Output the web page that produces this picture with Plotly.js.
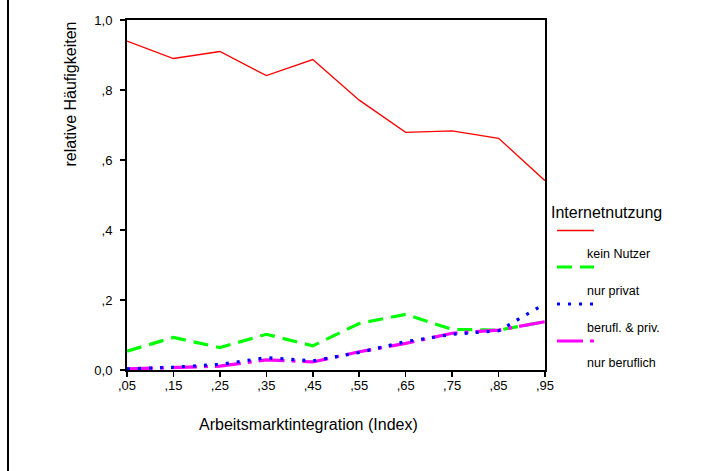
<!DOCTYPE html>
<html>
<head>
<meta charset="utf-8">
<script src="https://cdn.plot.ly/plotly-3.0.1.min.js"></script>
<style>html,body{margin:0;padding:0;background:#fff;}#chart{width:715px;height:471px;}</style>
</head>
<body>
<div id="chart"></div>
<script>
const xValues = [0.05, 0.15, 0.25, 0.35, 0.45, 0.55, 0.65, 0.75, 0.85, 0.95];
const xTickLabels = [",05", ",15", ",25", ",35", ",45", ",55", ",65", ",75", ",85", ",95"];
const yTickValues = [0, 0.2, 0.4, 0.6, 0.8, 1.0];
const yTickLabels = ["0,0", ",2", ",4", ",6", ",8", "1,0"];
const seriesNames = ["kein Nutzer", "nur privat", "berufl. & priv.", "nur beruflich"];
const keinNutzer   = [0.940, 0.890, 0.910, 0.841, 0.887, 0.771, 0.679, 0.683, 0.662, 0.541];
const nurPrivat    = [0.054, 0.093, 0.064, 0.102, 0.069, 0.133, 0.159, 0.116, 0.114, 0.138];
const beruflPriv   = [0.003, 0.008, 0.016, 0.035, 0.026, 0.050, 0.081, 0.102, 0.112, 0.189];
const nurBeruflich = [0.003, 0.008, 0.011, 0.029, 0.023, 0.052, 0.076, 0.105, 0.114, 0.138];
const legendTitle = "Internetnutzung";
const xTitle = "Arbeitsmarktintegration (Index)";
const yTitle = "relative Häufigkeiten";

const styles = [
  {color: "#ff0000", width: 1.3, dash: "solid"},
  {color: "#00ff00", width: 3.2, dash: "15px,8px"},
  {color: "#0000ff", width: 3.2, dash: "3px,8px"},
  {color: "#ff00ff", width: 3.2, dash: "26px,7px,4px,7px"}
];
const seriesData = [keinNutzer, nurPrivat, beruflPriv, nurBeruflich];
const drawOrder = [0, 1, 3, 2];
const traces = drawOrder.map(i => ({
  type: "scatter", mode: "lines", x: xValues, y: seriesData[i], name: seriesNames[i],
  line: {color: styles[i].color, width: styles[i].width, dash: styles[i].dash},
  showlegend: false, hoverinfo: "x+y+name"
}));

const W = 715, H = 471, L = 127, R = 170, T = 20, B = 101;
const pw = W - L - R, ph = H - T - B;
const px = x => (x - L) / pw;
const py = y => (H - B - y) / ph;
const fam = "Arial, Liberation Sans, sans-serif";

const shapes = [
  {type: "line", xref: "paper", yref: "paper", x0: px(8), x1: px(8), y0: py(H), y1: py(0), line: {color: "#000", width: 2}}
];
const annotations = [
  {xref: "paper", yref: "paper", x: px(70), y: py(94.5), text: yTitle, textangle: -90, showarrow: false,
   font: {family: fam, size: 16, color: "#000"}, xanchor: "center", yanchor: "middle"},
  {xref: "paper", yref: "paper", x: px(308), y: py(424), text: xTitle, showarrow: false,
   font: {family: fam, size: 16, color: "#000"}, xanchor: "center", yanchor: "middle"},
  {xref: "paper", yref: "paper", x: px(549), y: py(212), text: legendTitle, showarrow: false,
   font: {family: fam, size: 16, color: "#000"}, xanchor: "left", yanchor: "middle"}
];
const legendSymY = [230.5, 267, 304, 341];
const legendLabY = [254, 291, 327.5, 363];
for (let i = 0; i < 4; i++) {
  shapes.push({type: "line", xref: "paper", yref: "paper", x0: px(557), x1: px(594), y0: py(legendSymY[i]), y1: py(legendSymY[i]),
    line: {color: styles[i].color, width: styles[i].width, dash: styles[i].dash}});
  annotations.push({xref: "paper", yref: "paper", x: px(584.5), y: py(legendLabY[i]), text: seriesNames[i], showarrow: false,
    font: {family: fam, size: 12.5, color: "#000"}, xanchor: "left", yanchor: "middle"});
}

const axisFont = {family: fam, size: 13, color: "#000"};
const layout = {
  width: W, height: H,
  margin: {l: L, r: R, t: T, b: B, pad: 0},
  paper_bgcolor: "#fff", plot_bgcolor: "#fff",
  showlegend: false,
  xaxis: {range: [0.05, 0.95], tickvals: xValues, ticktext: xTickLabels, showgrid: false, zeroline: false,
    showline: true, linecolor: "#000", linewidth: 2, mirror: true, ticks: "outside", ticklen: 5, tickcolor: "#000", tickwidth: 1.5,
    tickfont: axisFont, tickangle: 0, ticklabelstandoff: -3},
  yaxis: {range: [0, 1.0], tickvals: yTickValues, ticktext: yTickLabels, showgrid: false, zeroline: false,
    showline: true, linecolor: "#000", linewidth: 2, mirror: true, ticks: "outside", ticklen: 5, tickcolor: "#000", tickwidth: 1.5,
    tickfont: axisFont, ticklabelstandoff: 5},
  shapes: shapes,
  annotations: annotations
};
Plotly.newPlot("chart", traces, layout, {staticPlot: true, displayModeBar: false});
</script>
</body>
</html>
